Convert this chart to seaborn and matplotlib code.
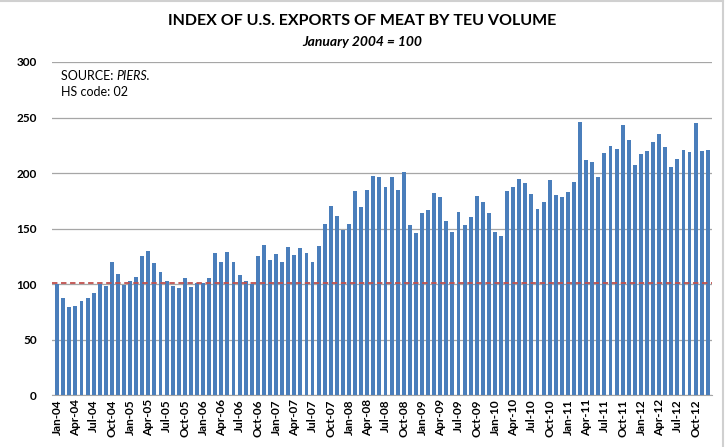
import pandas as pd
import seaborn as sns
import matplotlib.pyplot as plt
from matplotlib.lines import Line2D

# monthly index values, Jan-04 .. Dec-12 (Jan 2004 = 100)
years = list(range(2004, 2013))
month_names = ["Jan", "Feb", "Mar", "Apr", "May", "Jun",
               "Jul", "Aug", "Sep", "Oct", "Nov", "Dec"]
months = [f"{m}-{str(y)[2:]}" for y in years for m in month_names]

index_values = [
    100, 87, 79, 80, 85, 87, 92, 100, 98, 120, 109, 99,      # 2004
    103, 106, 125, 130, 119, 111, 103, 98, 96, 105, 97, 101,  # 2005
    101, 105, 128, 120, 129, 120, 108, 103, 100, 125, 135, 122,  # 2006
    127, 120, 133, 126, 132, 128, 120, 134, 154, 170, 161, 149,  # 2007
    154, 184, 169, 185, 197, 196, 187, 196, 185, 201, 153, 146,  # 2008
    164, 167, 182, 178, 157, 147, 165, 153, 160, 179, 174, 164,  # 2009
    147, 143, 184, 187, 195, 191, 181, 168, 174, 194, 180, 178,  # 2010
    183, 192, 246, 212, 210, 196, 218, 224, 222, 243, 230, 207,  # 2011
    217, 220, 228, 235, 223, 205, 213, 221, 219, 245, 220, 221,  # 2012
]
base_level = 100

df = pd.DataFrame({"month": months, "index": index_values})

plt.rcParams['font.family'] = ['Lato', 'DejaVu Sans']

fig = plt.figure(figsize=(7.25, 4.47), dpi=100)
# thin frame on top and right like the source image
fig.add_artist(Line2D([0, 0.997], [0.997, 0.997], color="#d0d0d0", lw=1.5))
fig.add_artist(Line2D([0.997, 0.997], [0, 0.997], color="#d0d0d0", lw=1.5))
ax = fig.add_axes([0.0717, 0.1163, 0.910, 0.745])

sns.barplot(data=df, x="month", y="index", color="#4a7ebb", width=0.64,
            saturation=1, ax=ax, zorder=3)

ax.axhline(base_level + 0.5, color="#c0504d", linestyle=(0, (3, 2)), linewidth=1.3, zorder=4)

ax.set_ylim(0, 300)
ax.set_xlim(-0.85, len(months) - 0.35)
ax.set_yticks(range(0, 301, 50))
ax.yaxis.grid(True, color="#a6a6a6", linewidth=0.9, zorder=0)
ax.set_axisbelow(True)

tick_pos = list(range(0, len(months), 3))
ax.set_xticks(tick_pos)
ax.set_xticklabels([months[i] for i in tick_pos], rotation=90,
                   fontsize=8.5, fontweight="bold")
for lbl in ax.get_yticklabels():
    lbl.set_fontsize(8.5)
    lbl.set_fontweight("bold")
ax.tick_params(axis="both", length=0, pad=3)
ax.tick_params(axis="y", pad=11)
ax.set_xlabel("")
ax.set_ylabel("")
for side in ["left", "right", "top"]:
    ax.spines[side].set_visible(False)
ax.spines["bottom"].set_color("#a6a6a6")

fig.text(0.5, 0.952, "INDEX OF U.S. EXPORTS OF MEAT BY TEU VOLUME",
         ha="center", va="center", fontsize=11.5, fontweight="bold")
fig.text(0.5, 0.906, "January 2004 = 100", ha="center", va="center",
         fontsize=10, fontweight="bold", style="italic")

src = ax.text(0.014, 0.975, "SOURCE: ", transform=ax.transAxes,
              fontsize=9, va="top", ha="left")
ax.annotate("PIERS.", xy=(1, 0), xycoords=src, va="bottom", ha="left",
            fontsize=9, style="italic")
ax.text(0.014, 0.927, "HS code: 02", transform=ax.transAxes,
        fontsize=9, va="top", ha="left")

fig.savefig("out.png", dpi=100)
